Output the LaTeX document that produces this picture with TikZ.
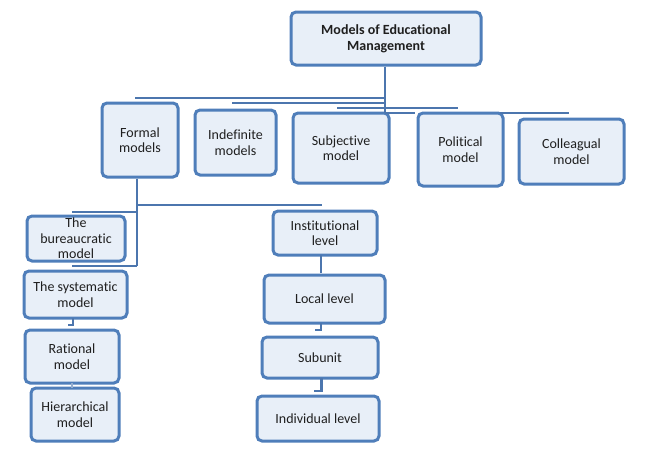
\documentclass[tikz,border=0pt]{standalone}
\usepackage{fontspec}
\setmainfont{Carlito}[Ligatures=NoCommon]
\definecolor{bordblue}{RGB}{79,126,186}
\definecolor{boxfill}{RGB}{232,239,248}
\definecolor{lineblue}{RGB}{76,118,174}
\tikzset{
  box/.style={draw=bordblue, fill=boxfill, line width=3pt, rounded corners=5pt,
    align=center, inner sep=0pt, font=\fontsize{14}{15.5}\selectfont, text=black!88},
  conn/.style={draw=lineblue, line width=2.9pt},
  thinconn/.style={draw=lineblue, line width=2.1pt},
}
\begin{document}
\begin{tikzpicture}[x=1pt,y=-1pt]
\useasboundingbox (0,0) rectangle (653,455);
% top level
\node[box, minimum width=190pt, minimum height=53pt, font=\bfseries\fontsize{14}{16}\selectfont] (top) at (386,38.5) {Models of Educational\\Management};
% second row
\node[box, minimum width=76pt, minimum height=74pt] (formal) at (140,140) {Formal\\models};
\node[box, minimum width=81pt, minimum height=65pt] (indef) at (235.5,142.5) {Indefinite\\models};
\node[box, minimum width=96pt, minimum height=70pt] (subj) at (341,148) {Subjective\\model};
\node[box, minimum width=85pt, minimum height=73pt] (polit) at (460.5,149.5) {Political\\model};
\node[box, minimum width=105pt, minimum height=65pt] (colleg) at (571.5,151.5) {Colleagual\\model};
% left column
\node[box, minimum width=98pt, minimum height=45pt] (bureau) at (76,238.5) {The\\bureaucratic\\model};
\node[box, minimum width=103pt, minimum height=47pt] (system) at (75.5,294.5) {The systematic\\model};
\node[box, minimum width=94pt, minimum height=53pt] (ration) at (72,356.5) {Rational\\model};
\node[box, minimum width=88pt, minimum height=53pt] (hier) at (75,414.5) {Hierarchical\\model};
% right column
\node[box, minimum width=104pt, minimum height=44pt] (instit) at (325,233) {Institutional\\level};
\node[box, minimum width=121pt, minimum height=48pt] (local) at (324.5,299) {Local level};
\node[box, minimum width=116pt, minimum height=41pt] (subunit) at (320,357.5) {Subunit};
\node[box, minimum width=122pt, minimum height=45pt] (indiv) at (318,418.5) {Individual level};
% connector coordinates
\coordinate (hub) at (385,113);
\coordinate (aL) at (135,98);
\coordinate (bL) at (232,103);
\coordinate (cL) at (337,108);
\coordinate (cR) at (458,108);
\coordinate (dR) at (415,113);
\coordinate (eL) at (500,113);
\coordinate (eR) at (569,113);
\coordinate (fstem) at (137,266);
\coordinate (fbranch) at (322,205);
\coordinate (bTop) at (72,212);
\coordinate (bBot) at (72,266);
\coordinate (s1) at (73,318);
\coordinate (s2) at (68,325);
\coordinate (r1) at (72,383);
\coordinate (r2) at (72,388);
\coordinate (i1) at (321,255);
\coordinate (i2) at (321,273);
\coordinate (l1) at (321,323);
\coordinate (l2) at (315,330);
\coordinate (u1) at (321.5,378);
\coordinate (u2) at (314,391);
% top stem and branches
\draw[conn] (top.south -| hub) -- (hub);
\draw[conn] (aL) -- (aL -| hub);
\draw[conn] (bL) -- (bL -| hub);
\draw[thinconn] (cL) -- (cR);
\draw[conn] (hub) -- (dR);
\draw[thinconn] (eL) -- (eR);
% formal branch
\draw[conn] (formal.south -| fstem) -- (fstem);
\draw[conn] (fbranch -| fstem) -- (fbranch);
\draw[conn] (bTop) -- (bTop -| fstem);
\draw[conn] (bBot) -- (fstem);
\draw[conn] (s1) |- (s2);
\draw[thinconn, draw=lineblue!60] (r1) -- (r2);
% right column
\draw[conn] (i1) -- (i2);
\draw[conn] (l1) |- (l2);
\draw[conn] (u1) |- (u2);
\end{tikzpicture}
\end{document}
